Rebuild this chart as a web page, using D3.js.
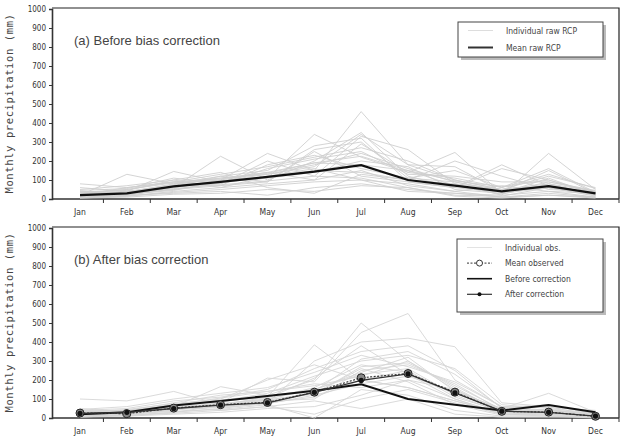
<!DOCTYPE html>
<html>
<head>
<meta charset="utf-8">
<script src="https://cdn.jsdelivr.net/npm/d3@7"></script>
<style>
  body { margin: 0; background: #fff; }
  svg { display: block; }
  .narrow { font-family: 'DejaVu Sans Condensed', 'DejaVu Sans', sans-serif; font-stretch: condensed; }
</style>
</head>
<body>
<div id="chart"></div>
<script>
const months = ["Jan","Feb","Mar","Apr","May","Jun","Jul","Aug","Sep","Oct","Nov","Dec"];
const yTicks = [0,100,200,300,400,500,600,700,800,900,1000];

// (a) individual raw RCP runs
const rawRcp = [
  [80,60,90,110,130,180,240,160,90,40,60,30],
  [20,130,80,100,240,150,460,180,100,50,80,40],
  [30,40,145,90,110,340,220,140,245,30,60,20],
  [10,20,60,225,100,200,350,120,60,180,70,30],
  [40,30,70,80,200,120,330,260,80,20,240,50],
  [15,25,50,70,90,260,300,110,150,60,160,35],
  [25,35,80,120,150,280,320,90,60,160,100,25],
  [5,15,40,60,80,100,150,70,40,10,30,10],
  [30,50,90,130,170,220,270,200,100,50,120,60],
  [20,30,60,100,140,190,180,150,70,25,80,20],
  [50,70,100,60,120,160,100,80,40,70,40,30],
  [10,20,30,40,20,60,80,50,30,10,20,10],
  [35,45,100,140,60,30,130,100,200,120,50,40],
  [15,40,60,90,110,140,200,170,50,30,110,20],
  [25,20,55,75,95,120,110,60,20,15,60,15],
  [45,55,110,80,160,210,250,130,120,90,90,45],
  [10,15,35,50,70,90,100,40,30,20,40,10],
  [60,40,75,110,140,100,290,140,110,60,130,55],
  [20,60,90,70,180,230,160,110,90,45,60,25],
  [30,25,45,95,130,170,340,180,170,40,150,30],
  [5,10,25,30,50,40,70,60,15,5,20,5],
  [40,35,65,120,90,250,120,90,60,35,90,40],
  [20,30,50,85,115,150,140,100,80,50,70,30],
  [35,50,85,105,135,190,225,150,95,65,100,35]
];
const meanRaw = [20,30,66,90,116,144,178,100,70,40,68,30];

// (b) individual observed years
const obsYears = [
  [100,90,140,70,110,385,200,160,90,30,20,10],
  [20,30,60,165,120,200,500,300,150,40,30,15],
  [30,20,40,80,210,190,450,550,200,60,40,20],
  [10,15,30,50,80,300,400,420,375,80,60,10],
  [40,50,90,110,150,260,350,380,250,50,130,30],
  [25,35,70,90,130,220,300,330,260,70,50,25],
  [15,20,50,60,90,100,250,280,180,40,30,5],
  [35,40,80,120,140,170,220,300,160,30,45,15],
  [5,10,20,30,50,60,120,200,100,20,10,5],
  [20,25,55,75,100,160,280,240,130,45,35,10],
  [30,45,75,100,200,280,200,250,110,35,25,20],
  [50,30,60,40,60,20,100,150,80,20,15,5],
  [20,10,30,65,95,130,260,190,70,15,20,10],
  [25,30,45,55,75,120,180,220,140,50,40,20],
  [10,20,35,45,70,0,150,120,40,10,10,0],
  [45,60,100,130,160,240,330,270,190,60,55,40],
  [15,25,40,85,115,150,230,260,120,30,35,10],
  [35,40,65,95,105,210,380,230,100,25,30,15],
  [20,35,50,60,85,140,310,350,230,55,70,20],
  [5,15,25,40,60,90,50,100,20,5,5,5],
  [30,25,55,70,95,125,270,290,170,45,25,10],
  [40,30,70,105,140,180,160,200,150,35,35,25],
  [10,20,45,60,80,110,200,160,90,20,30,5],
  [25,35,60,75,100,150,240,320,140,40,45,15]
];
const meanObs = [26,23,52,70,82,136,212,234,136,35,31,9];
const afterCorr = [24,30,50,68,80,135,198,232,132,36,30,10];

const W = 632, H = 439;
const left = 52, right = 619;

const svg = d3.select("#chart").append("svg")
  .attr("width", W).attr("height", H);

const x = d3.scalePoint().domain(months).range([80, 595.5]);
const step = x.step();

function drawPanel(top, bottom, title) {
  const y = d3.scaleLinear().domain([0, 1000]).range([bottom, top + 1]);
  const g = svg.append("g");

  // frame (top + right)
  g.append("path")
    .attr("d", `M${left},${top}H${right}V${bottom}`)
    .attr("fill", "none").attr("stroke", "#222").attr("stroke-width", 1.2);

  // y axis
  const ya = g.append("g").attr("transform", `translate(${left},0)`)
    .call(d3.axisLeft(y).tickValues(yTicks).tickFormat(d3.format("d")).tickSize(3).tickPadding(3));
  ya.select(".domain").attr("stroke", "#333").attr("stroke-width", 1.6);
  ya.selectAll(".tick line").attr("stroke", "#333");
  ya.selectAll("text")
    .attr("class", "narrow").attr("font-family", null)
    .attr("font-size", 8).attr("fill", "#333");

  // x axis: ticks at month boundaries, labels at centres
  const xa = g.append("g").attr("transform", `translate(0,${bottom})`);
  xa.append("line").attr("x1", left).attr("x2", right)
    .attr("stroke", "#333").attr("stroke-width", 1.6);
  const bounds = months.slice(0, 11).map(m => x(m) + step / 2);
  bounds.push(right);
  xa.selectAll(".tk").data(bounds).enter().append("line")
    .attr("x1", d => d).attr("x2", d => d).attr("y1", 0).attr("y2", 4)
    .attr("stroke", "#333");
  xa.selectAll(".lb").data(months).enter().append("text")
    .attr("class", "narrow")
    .attr("x", d => x(d)).attr("y", 16)
    .attr("text-anchor", "middle")
    .attr("font-size", 8.5).attr("fill", "#333")
    .text(d => d);

  // y label
  g.append("text")
    .attr("transform", `translate(13,${(top + bottom) / 2}) rotate(-90)`)
    .attr("text-anchor", "middle")
    .attr("font-family", "'DejaVu Sans Mono', monospace")
    .attr("font-size", 10.5).attr("letter-spacing", 0.6).attr("fill", "#444")
    .text("Monthly precipitation (mm)");

  // title
  g.append("text").attr("x", 74).attr("y", top + 37)
    .attr("font-family", "'Liberation Sans', Arial, sans-serif")
    .attr("font-size", 13).attr("fill", "#444")
    .text(title);

  return { g, y };
}

function lineGen(y) {
  return d3.line().x((d, i) => x(months[i])).y(d => y(d));
}

// ----- panel (a)
const pa = drawPanel(8, 199, "(a) Before bias correction");
const la = lineGen(pa.y);
pa.g.append("g").selectAll("path").data(rawRcp).enter().append("path")
  .attr("d", la).attr("fill", "none")
  .attr("stroke", "#cfcfcf").attr("stroke-width", 0.9);
pa.g.append("path").attr("d", la(meanRaw)).attr("fill", "none")
  .attr("stroke", "#111").attr("stroke-width", 2.2);

// ----- panel (b)
const pb = drawPanel(227, 418, "(b) After bias correction");
const lb = lineGen(pb.y);
pb.g.append("g").selectAll("path").data(obsYears).enter().append("path")
  .attr("d", lb).attr("fill", "none")
  .attr("stroke", "#d6d6d6").attr("stroke-width", 0.9);
pb.g.append("path").attr("d", lb(meanRaw)).attr("fill", "none")
  .attr("stroke", "#111").attr("stroke-width", 2);
pb.g.append("path").attr("d", lb(afterCorr)).attr("fill", "none")
  .attr("stroke", "#333").attr("stroke-width", 1.3);
pb.g.append("path").attr("d", lb(meanObs)).attr("fill", "none")
  .attr("stroke", "#333").attr("stroke-width", 1.2).attr("stroke-dasharray", "2,1.5");
pb.g.selectAll(".obs").data(meanObs).enter().append("circle")
  .attr("cx", (d, i) => x(months[i])).attr("cy", d => pb.y(d))
  .attr("r", 4).attr("fill", "#888").attr("stroke", "#222").attr("stroke-width", 1);
pb.g.selectAll(".aft").data(afterCorr).enter().append("circle")
  .attr("cx", (d, i) => x(months[i])).attr("cy", d => pb.y(d))
  .attr("r", 2.6).attr("fill", "#111");

// ----- legends
function legend(x0, y0, w, h, items) {
  const g = svg.append("g");
  g.append("rect").attr("x", x0 + 3).attr("y", y0 + 3).attr("width", w).attr("height", h)
    .attr("fill", "#bbb");
  g.append("rect").attr("x", x0).attr("y", y0).attr("width", w).attr("height", h)
    .attr("fill", "#fff").attr("stroke", "#444").attr("stroke-width", 1);
  items.forEach((it, i) => {
    const yy = y0 + 8.5 + i * it.gap;
    const l = g.append("line").attr("x1", x0 + 10).attr("x2", x0 + 35)
      .attr("y1", yy).attr("y2", yy)
      .attr("stroke", it.color).attr("stroke-width", it.width);
    if (it.dash) l.attr("stroke-dasharray", it.dash);
    if (it.marker === "open") {
      g.append("circle").attr("cx", x0 + 22.5).attr("cy", yy).attr("r", 3)
        .attr("fill", "#fff").attr("stroke", "#333");
    }
    if (it.marker === "dot") {
      g.append("circle").attr("cx", x0 + 22.5).attr("cy", yy).attr("r", 2)
        .attr("fill", "#111");
    }
    g.append("text").attr("class", "narrow")
      .attr("x", x0 + 48).attr("y", yy + 3)
      .attr("font-size", 8.5).attr("fill", "#444").text(it.label);
  });
}

legend(458, 22, 145, 35, [
  { label: "Individual raw RCP", color: "#ddd", width: 1, gap: 17 },
  { label: "Mean raw RCP", color: "#333", width: 2, gap: 17 }
]);
legend(457, 239, 146, 73, [
  { label: "Individual obs.", color: "#e3e3e3", width: 1, gap: 15.6 },
  { label: "Mean observed", color: "#333", width: 1, dash: "2,1.5", marker: "open", gap: 15.6 },
  { label: "Before correction", color: "#111", width: 1.6, gap: 15.6 },
  { label: "After correction", color: "#333", width: 1.2, marker: "dot", gap: 15.6 }
]);
</script>
</body>
</html>
